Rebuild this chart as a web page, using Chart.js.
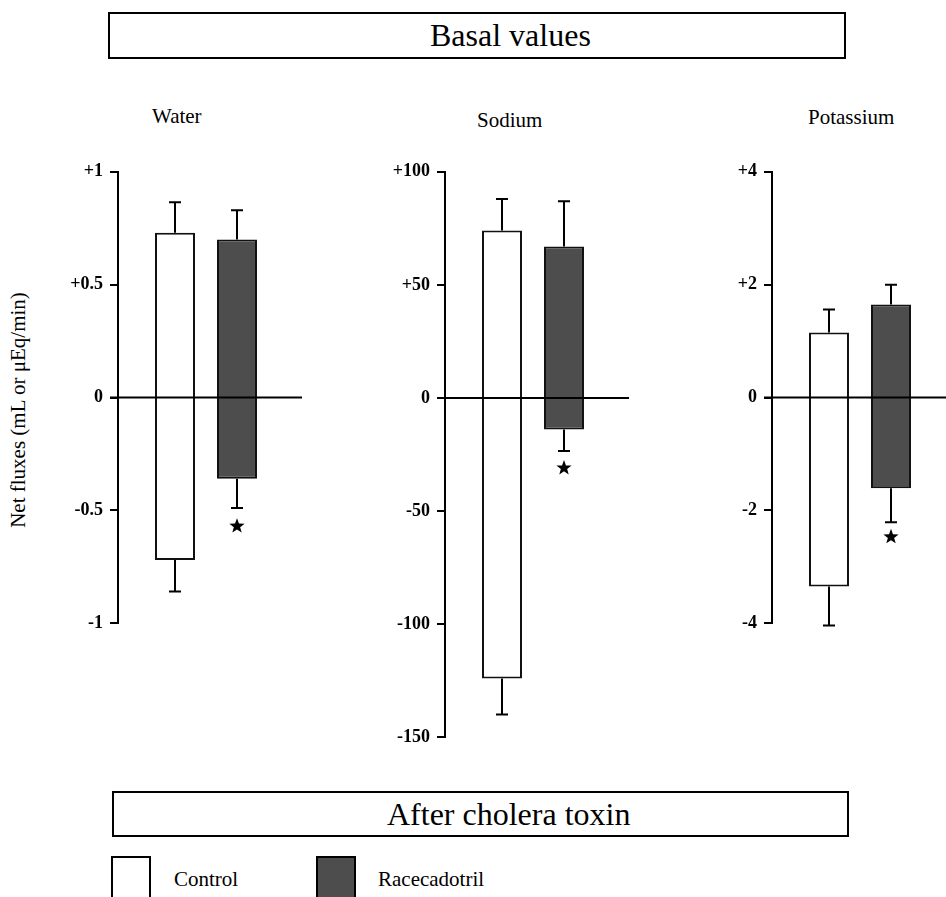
<!DOCTYPE html>
<html>
<head>
<meta charset="utf-8">
<script src="https://cdn.jsdelivr.net/npm/chart.js@4.4.1/dist/chart.umd.min.js"></script>
<style>
  body { margin: 0; width: 946px; height: 897px; overflow: hidden; background: #fff; font-family: 'Liberation Serif', serif; color: #000; position: relative; }
  .box { position: absolute; border: 2px solid #000; box-sizing: border-box; font-size: 32px; white-space: nowrap; }
  .panel-title { position: absolute; font-size: 21px; line-height: 24px; }
  .chart { position: absolute; }
  .legend-box { position: absolute; border: 2px solid #000; box-sizing: border-box; width: 40px; height: 50px; top: 856px; }
  .legend-text { position: absolute; top: 867px; font-size: 21px; line-height: 25px; }
  #ylabel { position: absolute; left: 18px; top: 410px; transform: translate(-50%, -50%) rotate(-90deg); white-space: nowrap; font-size: 21px; }
</style>
</head>
<body>

<div class="box" style="left:108px; top:12px; width:738px; height:47px; line-height:43px; padding-left:320px;">Basal values</div>
<div class="box" style="left:112px; top:791px; width:737px; height:46px; line-height:42px; padding-left:273px;">After cholera toxin</div>

<div class="panel-title" style="left:152px; top:104px;">Water</div>
<div class="panel-title" style="left:477px; top:108px;">Sodium</div>
<div class="panel-title" style="left:808px; top:105px;">Potassium</div>

<div id="ylabel">Net fluxes (mL or μEq/min)</div>

<canvas id="c0" class="chart" width="246" height="487" style="left:58px; top:154px;"></canvas>
<canvas id="c1" class="chart" width="246" height="601" style="left:385px; top:154px;"></canvas>
<canvas id="c2" class="chart" width="246" height="487" style="left:712px; top:154px;"></canvas>

<div class="legend-box" style="left:111px; background:#fff;"></div>
<div class="legend-text" style="left:174px;">Control</div>
<div class="legend-box" style="left:316px; background:#4d4d4d;"></div>
<div class="legend-text" style="left:378px;">Racecadotril</div>

<script>
// panels and values
const panels = ['Water', 'Sodium', 'Potassium'];
const seriesNames = ['Control', 'Racecadotril'];

// bar ends (low, high) of each floating bar
const controlLow = [-0.72, -124, -3.35];
const controlHigh = [0.73, 74, 1.15];
const raceLow = [-0.36, -14, -1.61];
const raceHigh = [0.70, 67, 1.65];

// whisker ends
const controlLowErr = [-0.86, -140, -4.04];
const controlHighErr = [0.865, 88, 1.56];
const raceLowErr = [-0.49, -23.5, -2.21];
const raceHighErr = [0.83, 87, 2.0];

// significance stars (racecadotril only)
const starAt = [-0.57, -31, -2.47];

// axes
const yMin = [-1, -150, -4];
const yMax = [1, 100, 4];
const yStep = [0.5, 50, 2];
const tickLabels = [
  ['-1', '-0.5', '0', '+0.5', '+1'],
  ['-150', '-100', '-50', '0', '+50', '+100'],
  ['-4', '-2', '0', '+2', '+4']
];

const fillColors = ['#ffffff', '#4d4d4d'];

const whiskers = {
  id: 'whiskers',
  afterDatasetsDraw(chart, args, opts) {
    const ctx = chart.ctx;
    const y = chart.scales.y;
    const area = chart.chartArea;
    ctx.save();
    ctx.strokeStyle = '#000';
    ctx.fillStyle = '#000';
    ctx.lineWidth = 2;

    // zero line, over the bars
    const y0 = y.getPixelForValue(0);
    ctx.beginPath();
    ctx.moveTo(area.left - 8, y0);
    ctx.lineTo(area.right + 8, y0);
    ctx.stroke();

    opts.err.forEach((e, i) => {
      const bar = chart.getDatasetMeta(i).data[0];
      const x = bar.x;
      const ends = chart.data.datasets[i].data[0];
      [[ends[1], e[1]], [ends[0], e[0]]].forEach(pair => {
        const a = y.getPixelForValue(pair[0]);
        const b = y.getPixelForValue(pair[1]);
        ctx.beginPath();
        ctx.moveTo(x, a);
        ctx.lineTo(x, b);
        ctx.moveTo(x - 6, b);
        ctx.lineTo(x + 6, b);
        ctx.stroke();
      });
    });

    if (opts.star !== null) {
      const bar = chart.getDatasetMeta(1).data[0];
      const cx = bar.x, cy = y.getPixelForValue(opts.star);
      ctx.beginPath();
      for (let k = 0; k < 10; k++) {
        const r = k % 2 === 0 ? 8 : 3.3;
        const ang = -Math.PI / 2 + k * Math.PI / 5;
        const px = cx + r * Math.cos(ang), py = cy + r * Math.sin(ang);
        if (k === 0) ctx.moveTo(px, py); else ctx.lineTo(px, py);
      }
      ctx.closePath();
      ctx.fill();
    }
    ctx.restore();
  }
};

panels.forEach((name, p) => {
  new Chart(document.getElementById('c' + p), {
    type: 'bar',
    data: {
      labels: [name],
      datasets: [
        { label: seriesNames[0], data: [[controlLow[p], controlHigh[p]]], backgroundColor: fillColors[0] },
        { label: seriesNames[1], data: [[raceLow[p], raceHigh[p]]], backgroundColor: fillColors[1] }
      ]
    },
    options: {
      responsive: false,
      animation: false,
      devicePixelRatio: 1,
      layout: { padding: { top: 12, bottom: 12, left: 0, right: 10 } },
      datasets: {
        bar: {
          borderColor: '#111',
          borderWidth: 2,
          borderSkipped: false,
          categoryPercentage: 0.7045,
          barPercentage: 0.645
        }
      },
      scales: {
        x: { display: false },
        y: {
          min: yMin[p],
          max: yMax[p],
          afterFit: s => { s.width = 60; },
          ticks: {
            stepSize: yStep[p],
            padding: 7,
            color: '#000',
            font: { family: 'Liberation Serif', size: 18, weight: 'bold' },
            callback: (v, i) => tickLabels[p][i]
          },
          grid: { drawOnChartArea: false, drawTicks: true, tickLength: 8, color: '#000', lineWidth: 2 },
          border: { display: true, color: '#000', width: 2 }
        }
      },
      plugins: {
        legend: { display: false },
        tooltip: { enabled: false },
        whiskers: {
          err: [[controlLowErr[p], controlHighErr[p]], [raceLowErr[p], raceHighErr[p]]],
          star: starAt[p]
        }
      }
    },
    plugins: [whiskers]
  });
});
</script>
</body>
</html>
